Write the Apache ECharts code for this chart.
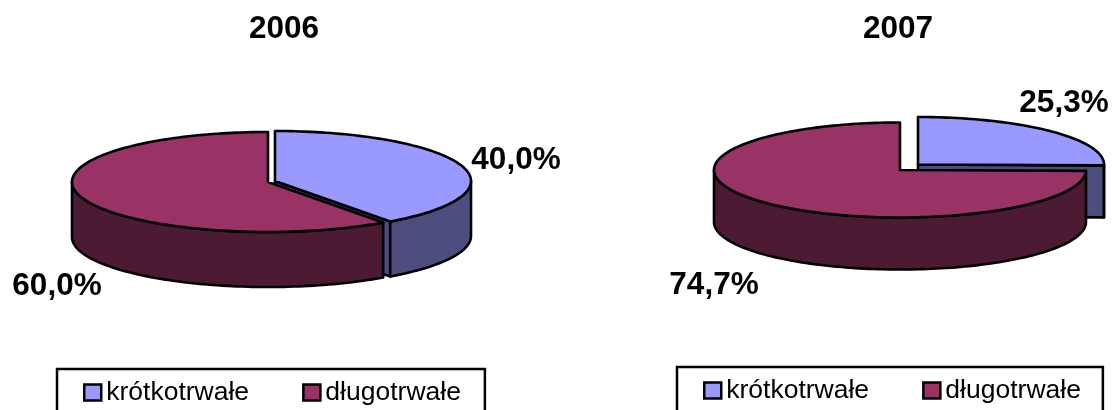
<!DOCTYPE html>
<html>
<head>
<meta charset="utf-8">
<style>html,body{margin:0;padding:0;background:#fff}#c{width:1112px;height:410px}</style>
<script src="https://cdn.jsdelivr.net/npm/echarts@6/dist/echarts.min.js"></script>
</head>
<body>
<div id="c"></div>
<script>
const years = ['2006', '2007'];
const categories = ['krótkotrwałe', 'długotrwałe'];
const shortTerm = [40.0, 25.3];
const longTerm = [60.0, 74.7];

const topColors = ['#9999FF', '#993366'];
const sideColors = ['#4D4D80', '#4D1A33'];
const FONT = '"Liberation Sans", Arial, sans-serif';

// layout: per pie, per slice
const pieLayout = [
  { rx: 196, ry: 50, depth: 55, centers: [[275, 181], [268, 182]], labels: [[516, 160], [57, 286]] },
  { rx: 186, ry: 47.5, depth: 52, centers: [[918, 164.5], [900, 170]], labels: [[1064, 103], [714, 285]] }
];

function pt(c, L, deg, dy) {
  const t = deg * Math.PI / 180;
  return [c[0] + L.rx * Math.sin(t), c[1] - L.ry * Math.cos(t) + (dy || 0)];
}
function arc(c, L, a, b, dy) {
  const out = [];
  const n = Math.max(2, Math.ceil(Math.abs(b - a) / 1.5));
  for (let i = 0; i <= n; i++) out.push(pt(c, L, a + (b - a) * i / n, dy));
  return out;
}
const edge = { stroke: '#000', lineWidth: 2.6, lineJoin: 'round' };

function sliceRenderer(pieIdx, catIdx) {
  return function (params, api) {
    const L = pieLayout[pieIdx];
    const c = L.centers[catIdx];
    const value = api.value(0);
    const start = catIdx === 0 ? 0 : (shortTerm[pieIdx] / 100) * 360;
    const end = start + value / 100 * 360;
    const children = [];
    if (end > 90 && end < 270) {
      const p = pt(c, L, end);
      children.push({ type: 'polygon', shape: { points: [c, p, [p[0], p[1] + L.depth], [c[0], c[1] + L.depth]] },
        style: Object.assign({ fill: sideColors[catIdx] }, edge) });
    }
    const a = Math.max(start, 90), b = Math.min(end, 270);
    if (b > a) {
      const pts = arc(c, L, a, b, 0).concat(arc(c, L, b, a, L.depth));
      children.push({ type: 'polygon', shape: { points: pts },
        style: Object.assign({ fill: sideColors[catIdx] }, edge) });
    }
    children.push({ type: 'polygon', shape: { points: [c].concat(arc(c, L, start, end, 0)) },
      style: Object.assign({ fill: topColors[catIdx] }, edge) });
    const lp = L.labels[catIdx];
    children.push({ type: 'text', x: lp[0], y: lp[1], z2: 10, style: {
      text: value.toFixed(1).replace('.', ',') + '%', fill: '#000',
      font: 'bold 31.5px ' + FONT, textAlign: 'center', textVerticalAlign: 'middle' } });
    return { type: 'group', children };
  };
}

const values = [shortTerm, longTerm];
const series = [];
years.forEach((y, p) => {
  categories.forEach((name, k) => {
    series.push({ type: 'custom', name, coordinateSystem: 'none', silent: true,
      itemStyle: { color: topColors[k] }, data: [[values[k][p]]],
      renderItem: sliceRenderer(p, k), clip: false, z: 2 + k });
  });
});

const legendBase = {
  orient: 'horizontal', data: categories, selectedMode: false, icon: 'rect',
  itemWidth: 17, itemHeight: 16, itemGap: 53,
  borderColor: '#000', borderWidth: 2.5, backgroundColor: '#fff',
  itemStyle: { borderColor: '#000', borderWidth: 2.5 },
  textStyle: { fontFamily: FONT, fontSize: 26.5, color: '#000' }
};

const chart = echarts.init(document.getElementById('c'), null, { renderer: 'canvas' });
chart.setOption({
  animation: false,
  backgroundColor: '#fff',
  title: [
    { text: years[0], left: 284, top: 13, textAlign: 'center', padding: 0,
      textStyle: { fontFamily: FONT, fontSize: 31.5, fontWeight: 'bold', color: '#000' } },
    { text: years[1], left: 898, top: 13, textAlign: 'center', padding: 0,
      textStyle: { fontFamily: FONT, fontSize: 31.5, fontWeight: 'bold', color: '#000' } }
  ],
  legend: [
    Object.assign({}, legendBase, { left: 57, top: 369, padding: [10, 24, 30, 26] }),
    Object.assign({}, legendBase, { left: 677, top: 367, padding: [10, 22, 30, 26] })
  ],
  series
});
</script>
</body>
</html>
